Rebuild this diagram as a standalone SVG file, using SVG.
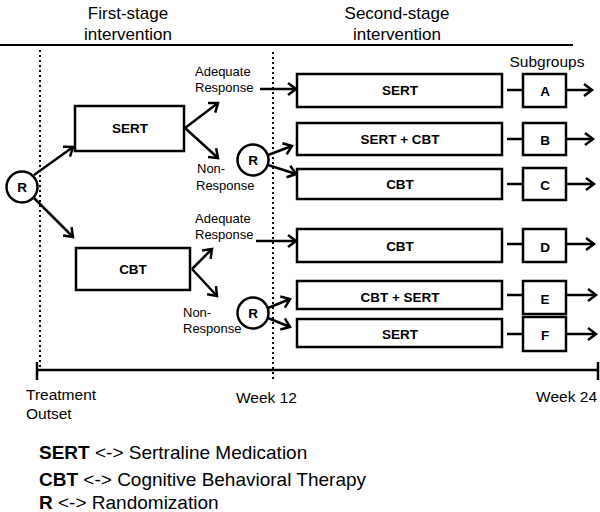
<svg xmlns="http://www.w3.org/2000/svg" width="600" height="512" viewBox="0 0 600 512">
<style>
text{font-family:"Liberation Sans",Arial,sans-serif;fill:#000}
.hd{font-size:17px;text-anchor:middle}
.lb{font-size:13px}
.tl{font-size:15.5px}
.bx{fill:#fff;stroke:#000;stroke-width:2.5}
.bt{font-size:13.5px;font-weight:bold;text-anchor:middle}
.ln{stroke:#000;stroke-width:2.5;fill:none}
.ar{stroke:#000;stroke-width:2.5;fill:none;marker-end:url(#ah)}
.dot{stroke:#000;stroke-width:2;stroke-dasharray:2 3}
.lg{font-size:19px}
</style>
<defs>
<marker id="ah" markerUnits="userSpaceOnUse" markerWidth="14" markerHeight="14" refX="11" refY="7" orient="auto" overflow="visible">
<path d="M3,1 L11,7 L3,13" fill="none" stroke="#000" stroke-width="2.5"/>
</marker>
</defs>
<rect width="600" height="512" fill="#fff"/>
<g id="headers">
<text class="hd" x="128" y="19">First-stage</text>
<text class="hd" x="128" y="40">intervention</text>
<text class="hd" x="397" y="19">Second-stage</text>
<text class="hd" x="397" y="40">intervention</text>
<line x1="0" y1="45" x2="573" y2="45" stroke="#000" stroke-width="2"/>
<text class="tl" x="547" y="67" text-anchor="middle">Subgroups</text>
</g>
<g id="timeline">
<line class="dot" x1="40" y1="50" x2="40" y2="368"/>
<line class="dot" x1="273" y1="52" x2="273" y2="382"/>
<line x1="37" y1="370" x2="598" y2="370" stroke="#000" stroke-width="2.5"/>
<line x1="37" y1="362" x2="37" y2="380" stroke="#000" stroke-width="2.5"/>
<line x1="598" y1="362" x2="598" y2="380" stroke="#000" stroke-width="2.5"/>
<text class="tl" x="26" y="400">Treatment</text>
<text class="tl" x="26" y="419">Outset</text>
<text class="tl" x="236" y="403">Week 12</text>
<text class="tl" x="597" y="402" text-anchor="end">Week 24</text>
</g>
<g id="connectors">
<path class="ar" d="M34,175 L73,147"/>
<path class="ar" d="M34,198 L73,237"/>
<path class="ar" d="M185,128 L218,103"/>
<path class="ar" d="M185,128 L218,158"/>
<path class="ar" d="M260,89 L296,89"/>
<path class="ar" d="M268,155 L292,146"/>
<path class="ar" d="M268,165 L296,174"/>
<path class="ar" d="M192,269 L212,249"/>
<path class="ar" d="M192,269 L217,296"/>
<path class="ar" d="M256,241 L296,241"/>
<path class="ar" d="M268,308 L290,299"/>
<path class="ar" d="M268,318 L290,327"/>
<path class="ln" d="M507,90 L523,90 M507,139 L523,139 M507,184 L523,184 M507,244 L523,244 M507,295 L523,295 M507,334 L523,334"/>
<path class="ar" d="M566,90 L592,90"/>
<path class="ar" d="M566,139 L593,139"/>
<path class="ar" d="M566,184 L594,184"/>
<path class="ar" d="M566,244 L594,244"/>
<path class="ar" d="M566,295 L596,295"/>
<path class="ar" d="M566,334 L596,334"/>
</g>
<g id="labels">
<text class="lb" x="195" y="76">Adequate</text>
<text class="lb" x="195" y="92">Response</text>
<text class="lb" x="197" y="173">Non-</text>
<text class="lb" x="196" y="190">Response</text>
<text class="lb" x="195" y="223">Adequate</text>
<text class="lb" x="195" y="239">Response</text>
<text class="lb" x="183" y="317">Non-</text>
<text class="lb" x="183" y="333">Response</text>
</g>
<g id="R1"><circle cx="22" cy="187" r="15.5" class="bx"/><text class="bt" x="22" y="192">R</text></g>
<g id="R2"><circle cx="253" cy="160" r="15.5" class="bx"/><text class="bt" x="253" y="165">R</text></g>
<g id="R3"><circle cx="253" cy="313" r="15.5" class="bx"/><text class="bt" x="253" y="318">R</text></g>
<g id="SERT1"><rect class="bx" x="75" y="106" width="109" height="45"/><text class="bt" x="130" y="133">SERT</text></g>
<g id="CBT1"><rect class="bx" x="76" y="248" width="114" height="42"/><text class="bt" x="133" y="274">CBT</text></g>
<g id="SERT2"><rect class="bx" x="297" y="74" width="205" height="33"/><text class="bt" x="400" y="95">SERT</text></g>
<g id="SERTCBT2"><rect class="bx" x="297" y="123" width="205" height="32"/><text class="bt" x="400" y="144">SERT + CBT</text></g>
<g id="CBT2"><rect class="bx" x="297" y="169" width="205" height="30"/><text class="bt" x="400" y="189">CBT</text></g>
<g id="CBT3"><rect class="bx" x="297" y="229" width="205" height="33"/><text class="bt" x="400" y="251">CBT</text></g>
<g id="CBTSERT3"><rect class="bx" x="297" y="281" width="205" height="28"/><text class="bt" x="400" y="302">CBT + SERT</text></g>
<g id="SERT3"><rect class="bx" x="297" y="319" width="205" height="28"/><text class="bt" x="400" y="339">SERT</text></g>
<g id="A"><rect class="bx" x="523" y="74" width="43" height="33"/><text class="bt" x="545" y="96">A</text></g>
<g id="B"><rect class="bx" x="523" y="123" width="43" height="32"/><text class="bt" x="545" y="145">B</text></g>
<g id="C"><rect class="bx" x="523" y="168" width="43" height="32"/><text class="bt" x="545" y="190">C</text></g>
<g id="D"><rect class="bx" x="523" y="229" width="43" height="33"/><text class="bt" x="545" y="252">D</text></g>
<g id="E"><rect class="bx" x="523" y="281" width="43" height="33"/><text class="bt" x="545" y="304">E</text></g>
<g id="F"><rect class="bx" x="523" y="317" width="43" height="34"/><text class="bt" x="545" y="340">F</text></g>
<g id="legend">
<text class="lg" x="39" y="459"><tspan font-weight="bold">SERT</tspan> &lt;-&gt; Sertraline Medication</text>
<text class="lg" x="39" y="486"><tspan font-weight="bold">CBT</tspan> &lt;-&gt; Cognitive Behavioral Therapy</text>
<text class="lg" x="39" y="509"><tspan font-weight="bold">R</tspan> &lt;-&gt; Randomization</text>
</g>
</svg>
